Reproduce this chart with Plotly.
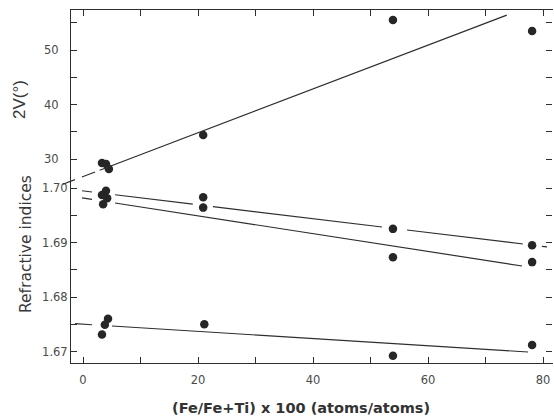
import plotly.graph_objects as go

# ---------------- data ----------------
# 2V (degrees) measurements
x_2v = [3.3, 4.0, 4.5, 20.9, 53.9, 78.1]
v_2v = [29.27, 29.08, 28.17, 34.4, 55.5, 53.5]

# refractive indices, upper pair
x_ri_hi = [4.0, 3.3, 4.2, 3.5, 20.9, 20.9, 53.9, 53.9, 78.1, 78.1]
ri_hi = [1.6995, 1.6987, 1.6981, 1.6970, 1.6983, 1.6964, 1.6925, 1.6873, 1.6895, 1.6864]

# refractive index, lower
x_ri_lo = [4.35, 3.8, 3.3, 21.1, 53.9, 78.1]
ri_lo = [1.6760, 1.6749, 1.6731, 1.6750, 1.6692, 1.6712]

# fitted lines: (intercept, slope) and the drawn x-segments (dashes / gaps)
fit_2v = (26.77, 0.402)
segs_2v = [(-3.5, -1.4), (-0.2, 2.1), (2.9, 73.7)]

fit_ri1 = (1.69947, -0.0001274)
segs_ri1 = [(-0.17, 1.57), (5.57, 19.1), (22.6, 52.0), (56.35, 76.5), (79.8, 80.7)]

fit_ri2 = (1.69816, -0.0001633)
segs_ri2 = [(-0.17, 1.57), (5.57, 76.35)]

fit_ri3 = (1.67501, -0.0000659)
segs_ri3 = [(-1.4, 1.57), (5.04, 77.4)]

x_ticks = [0, 10, 20, 30, 40, 50, 60, 70, 80]
x_ticktext = ['0', '', '20', '', '40', '', '60', '', '80']
v_ticks = [30, 35, 40, 45, 50, 55]
v_ticktext = ['30', '', '40', '', '50', '']
ri_ticks = [1.67, 1.675, 1.68, 1.685, 1.69, 1.695, 1.70]
ri_ticktext = ['1.67', '', '1.68', '', '1.69', '', '1.70']

# ---------------- helpers ----------------
def seg_xy(fit, segs):
    a, b = fit
    xs, ys = [], []
    for x0, x1 in segs:
        xs += [x0, x1, None]
        ys += [a + b * x0, a + b * x1, None]
    return xs, ys

W, H = 554, 416
ML, MR, MT, MB = 55, 2, 10, 53
PW, PH = W - ML - MR, H - MT - MB
AXIS_PX = 71  # pixel of left axis line

def px(xp):
    return (xp - ML) / PW

def py(yp):
    return 1 - (yp - MT) / PH

LINE = '#2e2e2e'
DOT = '#262626'
TXT = '#4a4a4a'
FONT = 'DejaVu Sans'
NOLINE = 'rgba(0,0,0,0)'

x_range = [-2.087, 81.56]
scale = (W - MR - AXIS_PX) / (x_range[1] - x_range[0])
x2_range = [x_range[0] - (AXIS_PX - ML) / scale, x_range[1]]

v_range = [-7.43, 57.34]
ri_range = [1.66789, 1.73266]

fig = go.Figure()

lx, ly = seg_xy(fit_2v, segs_2v)
fig.add_trace(go.Scatter(x=lx, y=ly, mode='lines', xaxis='x2', yaxis='y2',
                         line=dict(color=LINE, width=1.2), showlegend=False,
                         hoverinfo='skip'))
for fit, segs in [(fit_ri1, segs_ri1), (fit_ri2, segs_ri2), (fit_ri3, segs_ri3)]:
    lx, ly = seg_xy(fit, segs)
    fig.add_trace(go.Scatter(x=lx, y=ly, mode='lines', xaxis='x', yaxis='y',
                             line=dict(color=LINE, width=1.2), showlegend=False,
                             hoverinfo='skip'))

mk = dict(color=DOT, size=8.5)
fig.add_trace(go.Scatter(x=x_2v, y=v_2v, mode='markers', xaxis='x', yaxis='y2',
                         marker=mk, showlegend=False))
fig.add_trace(go.Scatter(x=x_ri_hi, y=ri_hi, mode='markers', xaxis='x', yaxis='y',
                         marker=mk, showlegend=False))
fig.add_trace(go.Scatter(x=x_ri_lo, y=ri_lo, mode='markers', xaxis='x', yaxis='y',
                         marker=mk, showlegend=False))

tickfont = dict(family=FONT, size=11.5, color=TXT)
common = dict(showgrid=False, zeroline=False, ticks='inside', ticklen=6,
              tickwidth=1.1, tickcolor=LINE, linewidth=1, tickfont=tickfont)

fig.update_layout(
    width=W, height=H,
    margin=dict(l=ML, r=MR, t=MT, b=MB),
    paper_bgcolor='white', plot_bgcolor='rgba(0,0,0,0)',
    xaxis=dict(domain=[px(AXIS_PX), 1], range=x_range, anchor='y',
               showline=True, linecolor=LINE, mirror='ticks', tickmode='array',
               tickvals=x_ticks, ticktext=x_ticktext, ticklabelstandoff=6,
               **common),
    xaxis2=dict(domain=[0, 1], range=x2_range, anchor='y2', visible=False),
    # RI axis: ticks on both sides, its own line transparent
    yaxis=dict(domain=[0, 1], range=ri_range, anchor='x', showline=True,
               linecolor=NOLINE, mirror='ticks', tickmode='array',
               tickvals=ri_ticks, ticktext=ri_ticktext, ticklabelstandoff=0,
               **common),
    # 2V axis: draws the visible left axis line
    yaxis2=dict(domain=[0, 1], range=v_range, anchor='x', showline=True,
                linecolor=LINE, mirror=False, tickmode='array', tickvals=v_ticks,
                ticktext=v_ticktext, ticklabelstandoff=9, **common),
    # 2V scale repeated for the right-hand ticks
    yaxis3=dict(domain=[0, 1], range=v_range, anchor='x', overlaying='y2',
                side='right', showline=False, showticklabels=False,
                tickmode='array', tickvals=v_ticks, **common),
    annotations=[
        dict(text='2V(°)', x=px(19), y=py(100), xref='paper', yref='paper',
             xanchor='center', yanchor='middle',
             showarrow=False, textangle=-90,
             font=dict(family='Liberation Sans', size=17, color='#383838')),
        dict(text='Refractive indices', x=px(26), y=py(244), xref='paper', yref='paper',
             xanchor='center', yanchor='middle',
             showarrow=False, textangle=-90,
             font=dict(family=FONT, size=15.5, color='#383838')),
        dict(text='<b>(Fe/Fe+Ti) x 100 (atoms/atoms)</b>', x=px(301), y=py(408),
             xanchor='center', yanchor='middle',
             xref='paper', yref='paper', showarrow=False,
             font=dict(family=FONT, size=14.5, color='#333')),
    ],
)
# invisible point so the right-hand 2V tick axis is instantiated
fig.add_trace(go.Scatter(x=[x_2v[3]], y=[v_2v[3]], mode='markers', xaxis='x', yaxis='y3',
                         marker=dict(opacity=0), showlegend=False, hoverinfo='skip'))

fig.write_html('out.html', post_script="document.body.style.margin='0';",
               config={'displayModeBar': False})
